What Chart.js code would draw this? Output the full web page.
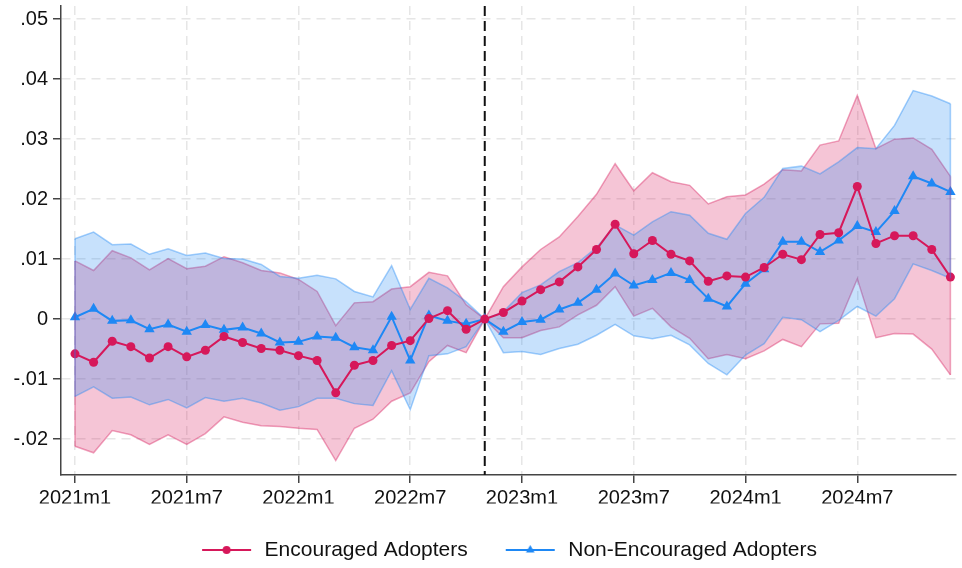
<!DOCTYPE html>
<html><head><meta charset="utf-8">
<script src="https://cdn.jsdelivr.net/npm/chart.js@4.4.1/dist/chart.umd.min.js"></script>
<style>html,body{margin:0;padding:0;background:#fff;}#wrap{width:962px;height:568px;}</style>
</head><body><div id="wrap"><canvas id="c" width="962" height="568"></canvas></div>
<script>
const months = [
 "2021m1","2021m2","2021m3","2021m4","2021m5","2021m6","2021m7","2021m8","2021m9","2021m10","2021m11","2021m12",
 "2022m1","2022m2","2022m3","2022m4","2022m5","2022m6","2022m7","2022m8","2022m9","2022m10","2022m11","2022m12",
 "2023m1","2023m2","2023m3","2023m4","2023m5","2023m6","2023m7","2023m8","2023m9","2023m10","2023m11","2023m12",
 "2024m1","2024m2","2024m3","2024m4","2024m5","2024m6","2024m7","2024m8","2024m9","2024m10","2024m11","2024m12"];
const xTickLabels = ["2021m1","2021m7","2022m1","2022m7","2023m1","2023m7","2024m1","2024m7"];
const yTickValues = [-0.02,-0.01,0,0.01,0.02,0.03,0.04,0.05];
const eventMonth = "2022m11";

const encouraged = [-0.0058,-0.0072,-0.0037,-0.0046,-0.0065,-0.0046,-0.0063,-0.0052,-0.0029,-0.0039,-0.0049,-0.0052,
 -0.0061,-0.0069,-0.0123,-0.0077,-0.0069,-0.0044,-0.0036,0.0001,0.0014,-0.0017,0,0.0011,
 0.0030,0.0049,0.0062,0.0087,0.0116,0.0158,0.0109,0.0131,0.0108,0.0097,0.0063,0.0072,
 0.0070,0.0086,0.0108,0.0099,0.0141,0.0144,0.0221,0.0126,0.0139,0.0139,0.0116,0.0070];
const encouragedUpper = [0.0097,0.0081,0.0114,0.0102,0.0082,0.0101,0.0084,0.0088,0.0104,0.0094,0.0081,0.0077,
 0.0066,0.0046,-0.0011,0.0027,0.0029,0.0050,0.0054,0.0078,0.0072,0.0024,0,0.0054,
 0.0087,0.0116,0.0137,0.0171,0.0208,0.0259,0.0214,0.0244,0.0229,0.0223,0.0192,0.0204,
 0.0207,0.0225,0.0249,0.0247,0.0290,0.0297,0.0373,0.0284,0.0300,0.0302,0.0283,0.0238];
const encouragedLower = [-0.0212,-0.0223,-0.0186,-0.0193,-0.0209,-0.0193,-0.0209,-0.0191,-0.0163,-0.0172,-0.0178,-0.0179,
 -0.0182,-0.0184,-0.0236,-0.0182,-0.0167,-0.0137,-0.0123,-0.0071,-0.0044,-0.0056,0,-0.0031,
 -0.0031,-0.0019,-0.0013,0.0007,0.0023,0.0054,0.0005,0.0018,-0.0013,-0.0032,-0.0066,-0.0059,
 -0.0066,-0.0053,-0.0034,-0.0046,-0.0008,-0.0007,0.0067,-0.0031,-0.0024,-0.0025,-0.0050,-0.0093];

const nonEncouraged = [0.0003,0.0017,-0.0003,-0.0002,-0.0017,-0.0009,-0.0021,-0.0010,-0.0018,-0.0014,-0.0024,-0.0039,
 -0.0038,-0.0029,-0.0031,-0.0047,-0.0052,0.0004,-0.0069,0.0006,-0.0003,-0.0008,0,-0.0021,
 -0.0005,-0.0001,0.0016,0.0027,0.0049,0.0076,0.0056,0.0065,0.0077,0.0065,0.0034,0.0021,
 0.0059,0.0083,0.0129,0.0129,0.0112,0.0131,0.0155,0.0145,0.0180,0.0238,0.0226,0.0212];
const nonEncouragedUpper = [0.0134,0.0145,0.0124,0.0125,0.0108,0.0117,0.0106,0.0110,0.0101,0.0100,0.0091,0.0071,
 0.0068,0.0073,0.0067,0.0046,0.0037,0.0089,0.0016,0.0068,0.0052,0.0029,0,0.0012,
 0.0044,0.0057,0.0079,0.0094,0.0119,0.0157,0.0140,0.0162,0.0179,0.0173,0.0143,0.0133,
 0.0176,0.0203,0.0251,0.0255,0.0242,0.0262,0.0286,0.0284,0.0323,0.0381,0.0372,0.0359];
const nonEncouragedLower = [-0.0129,-0.0113,-0.0132,-0.0130,-0.0143,-0.0134,-0.0148,-0.0131,-0.0137,-0.0132,-0.0140,-0.0152,
 -0.0146,-0.0132,-0.0132,-0.0141,-0.0144,-0.0086,-0.0151,-0.0061,-0.0058,-0.0046,0,-0.0056,
 -0.0054,-0.0059,-0.0049,-0.0042,-0.0027,-0.0009,-0.0028,-0.0033,-0.0027,-0.0043,-0.0074,-0.0093,
 -0.0060,-0.0041,0.0003,-0.0001,-0.0021,-0.0002,0.0021,0.0005,0.0034,0.0092,0.0081,0.0068];

const RED = 'rgb(214,24,90)';
const BLUE = 'rgb(30,136,245)';
const RED_EDGE = 'rgba(214,24,90,0.4)';
const BLUE_EDGE = 'rgba(30,136,245,0.4)';
const FONT = "'Liberation Sans', Arial, sans-serif";

function pts(arr){ return arr.map((v,i)=>({x:i,y:v})); }

function legendImg(color, shape){
  const c = document.createElement('canvas');
  c.width = 54; c.height = 16;
  const g = c.getContext('2d');
  g.strokeStyle = color; g.fillStyle = color; g.lineWidth = 2;
  g.beginPath(); g.moveTo(2,8); g.lineTo(51,8); g.stroke();
  g.beginPath();
  if (shape === 'circle') { g.arc(26.5,8,4,0,Math.PI*2); }
  else { g.moveTo(26.5,3); g.lineTo(30.8,10.5); g.lineTo(22.2,10.5); g.closePath(); }
  g.fill();
  return c;
}
const legendRed = legendImg(RED,'circle');
const legendBlue = legendImg(BLUE,'triangle');

const eventLine = {
  id:'eventLine',
  beforeDatasetsDraw(chart){
    const {ctx, chartArea, scales} = chart;
    const x = scales.x.getPixelForValue(months.indexOf(eventMonth));
    ctx.save();
    ctx.strokeStyle = '#111'; ctx.lineWidth = 2; ctx.setLineDash([10,5]);
    ctx.beginPath(); ctx.moveTo(x, chartArea.top); ctx.lineTo(x, chartArea.bottom); ctx.stroke();
    ctx.restore();
  }
};

// closes the ends of the confidence bands with their outline colour
const bandEnds = {
  id:'bandEnds',
  afterDatasetsDraw(chart){
    const {ctx, scales} = chart;
    const first = 0, last = months.length - 1;
    const bands = [[encouragedLower, encouragedUpper, RED_EDGE],[nonEncouragedLower, nonEncouragedUpper, BLUE_EDGE]];
    ctx.save();
    ctx.lineWidth = 1.5;
    bands.forEach(([lo, hi, col])=>{
      ctx.strokeStyle = col;
      [first, last].forEach(i=>{
        const x = scales.x.getPixelForValue(i);
        ctx.beginPath(); ctx.moveTo(x, scales.y.getPixelForValue(lo[i])); ctx.lineTo(x, scales.y.getPixelForValue(hi[i])); ctx.stroke();
      });
    });
    ctx.restore();
  }
};

const chart = new Chart(document.getElementById('c'), {
  type:'line',
  data:{ datasets:[
    {label:'Encouraged Adopters', data:pts(encouraged), borderColor:RED, backgroundColor:RED, borderWidth:2,
     pointStyle:'circle', pointRadius:4.5, pointBackgroundColor:RED, pointBorderWidth:0, fill:false, order:0},
    {label:'Non-Encouraged Adopters', data:pts(nonEncouraged), borderColor:BLUE, backgroundColor:BLUE, borderWidth:2,
     pointStyle:'triangle', pointRadius:6, pointBackgroundColor:BLUE, pointBorderWidth:0, fill:false, order:1},
    {label:'nonU', data:pts(nonEncouragedUpper), borderColor:BLUE_EDGE, borderWidth:1.5, pointRadius:0,
     backgroundColor:'rgba(30,136,245,0.25)', fill:'+1', order:2},
    {label:'nonL', data:pts(nonEncouragedLower), borderColor:BLUE_EDGE, borderWidth:1.5, pointRadius:0, fill:false, order:2},
    {label:'encU', data:pts(encouragedUpper), borderColor:RED_EDGE, borderWidth:1.5, pointRadius:0,
     backgroundColor:'rgba(214,24,90,0.25)', fill:'+1', order:3},
    {label:'encL', data:pts(encouragedLower), borderColor:RED_EDGE, borderWidth:1.5, pointRadius:0, fill:false, order:3}
  ]},
  options:{
    responsive:false, animation:false, devicePixelRatio:1,
    layout:{padding:{top:6,left:0,right:0,bottom:0}},
    scales:{
      x:{type:'linear', min:-0.75, max:47.3,
        afterBuildTicks(s){ s.ticks = xTickLabels.map(m=>({value:months.indexOf(m)})); },
        afterFit(s){ s.height = 28.5; s.paddingLeft = 0; s.paddingRight = 0; },
        ticks:{ callback:(v)=>months[v], font:{family:FONT,size:20}, color:'#111', padding:3, maxRotation:0, autoSkip:false },
        grid:{ color:'#e6e6e6', lineWidth:1.5, tickLength:8, tickColor:'#444', tickWidth:1.5, tickBorderDash:[] },
        border:{ display:true, color:'#444', width:1.5, dash:[9,6] }
      },
      y:{type:'linear', min:-0.026, max:0.0522,
        afterBuildTicks(s){ s.ticks = yTickValues.map(v=>({value:v})); },
        afterFit(s){ s.width = 61; s.paddingTop = 0; s.paddingBottom = 0; },
        ticks:{ callback:(v)=> Math.abs(v)<1e-9 ? '0' : (v<0?'-':'') + Math.abs(v).toFixed(2).replace(/^0/,''),
          font:{family:FONT,size:20}, color:'#111', padding:5 },
        grid:{ color:'#e6e6e6', lineWidth:1.5, tickLength:8, tickColor:'#444', tickWidth:1.5, tickBorderDash:[] },
        border:{ display:true, color:'#444', width:1.5, dash:[9,6] }
      }
    },
    plugins:{
      tooltip:{enabled:false},
      legend:{ position:'bottom', fullSize:false, maxHeight:64.5,
        labels:{ font:{family:FONT,size:21}, color:'#111', usePointStyle:true, pointStyleWidth:54, padding:36,
          generateLabels(chart){
            return [
              {text:'Encouraged Adopters', pointStyle:legendRed, fillStyle:RED, strokeStyle:RED, lineWidth:0, datasetIndex:0, hidden:false, fontColor:'#111'},
              {text:'Non-Encouraged Adopters', pointStyle:legendBlue, fillStyle:BLUE, strokeStyle:BLUE, lineWidth:0, datasetIndex:1, hidden:false, fontColor:'#111'}
            ];
          }
        }
      }
    }
  },
  plugins:[eventLine, bandEnds]
});
</script>
</body></html>
